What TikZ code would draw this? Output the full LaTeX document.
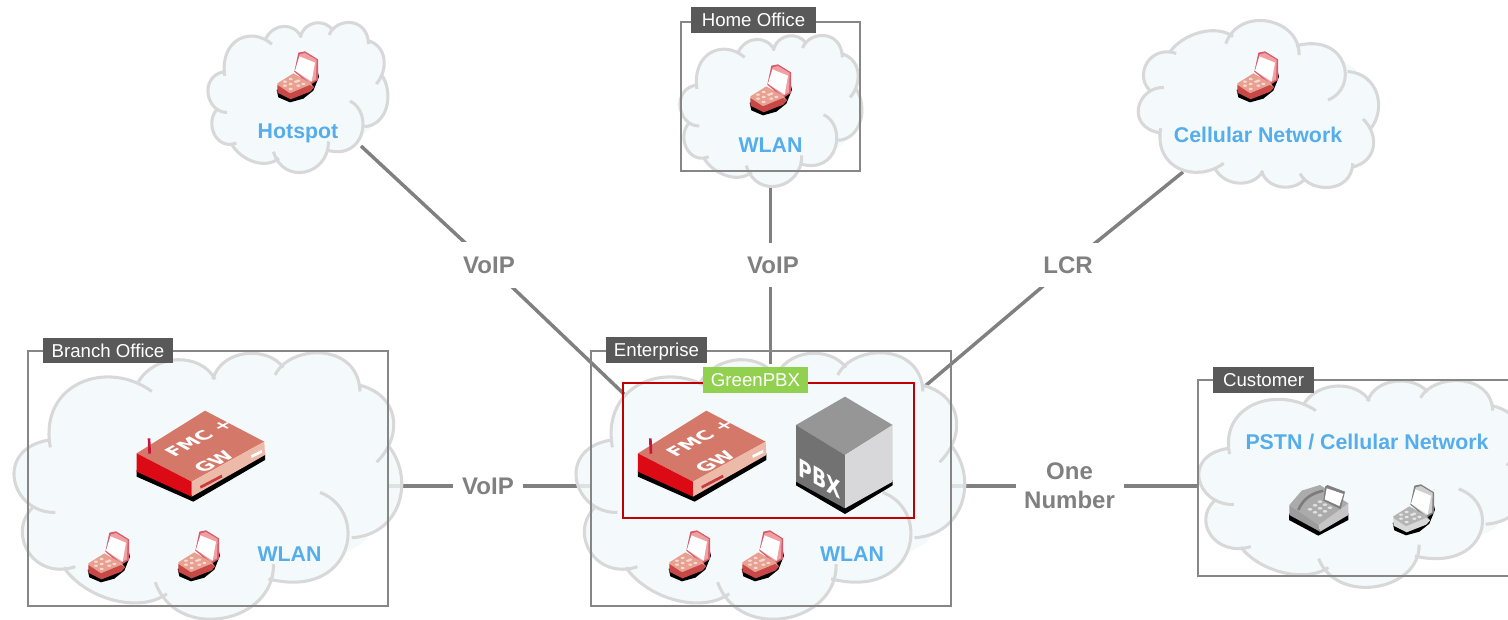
\documentclass[tikz,border=0pt]{standalone}
\usepackage{fontspec}
\setmainfont{Liberation Sans}
\newfontfamily\iconfont{DejaVu Sans}
\pgfdeclarelayer{back}
\pgfsetlayers{back,main}
\definecolor{cloudfill}{HTML}{F1F9FA}
\definecolor{cloudline}{HTML}{D8D8D8}
\definecolor{framegray}{HTML}{868686}
\definecolor{tabgray}{HTML}{595959}
\definecolor{linkgray}{HTML}{808080}
\definecolor{skyblue}{HTML}{55ADEC}
\definecolor{greentab}{HTML}{92D050}
\definecolor{boxred}{HTML}{C00000}
\tikzset{
  HTML/.code={\definecolor{tmpc}{HTML}{#1}\pgfkeysalso{color=tmpc}},
  px/.style={x=0.75pt,y=-0.75pt},
  fine/.style={x=0.25pt,y=-0.25pt},
  framebox/.style={draw=framegray,line width=1.5pt,inner sep=0pt},
  redbox/.style={draw=boxred,line width=1.5pt,inner sep=0pt},
  tabbox/.style={fill=#1,text=white,inner sep=0pt,font=\fontsize{14}{16}\selectfont,text height=11pt,text depth=1.2pt},
  wpx/.style={minimum width=#1*0.75pt},
  hpx/.style={minimum height=#1*0.75pt},
  link/.style={draw=linkgray,line width=2.6pt},
  linklabel/.style={fill=white,text=linkgray,inner sep=0pt,font=\fontsize{18}{21.75}\selectfont\bfseries,align=center},
  netlabel/.style={text=skyblue,inner sep=0pt,anchor=base,font=\fontsize{16}{18}\selectfont\bfseries},
  iconword/.style={text=white,inner sep=0pt,font=\iconfont\fontsize{14}{25.5}\selectfont\bfseries}
}
\newcommand\cloudshape{
 (150,325) .. controls (115,130) and (320,55) .. (455,155) -- cycle
 (415,125) .. controls (465,40) and (600,35) .. (645,118) -- cycle
 (638,118) .. controls (665,25) and (800,15) .. (850,82) -- cycle
 (825,105) .. controls (870,10) and (1075,5) .. (1080,155) -- cycle
 (1075,135) .. controls (1200,165) and (1210,290) .. (1130,370) -- cycle
 (1165,320) .. controls (1245,420) and (1205,590) .. (1055,600) -- cycle
 (960,462) .. controls (1110,520) and (1060,790) .. (805,725) -- cycle
 (820,680) .. controls (825,860) and (530,920) .. (465,735) -- cycle
 (500,770) .. controls (420,830) and (260,790) .. (190,690) -- cycle
 (225,688) .. controls (100,730) and (20,590) .. (95,510) -- cycle
 (165,523) .. controls (30,525) and (-20,330) .. (145,303) -- cycle
}
\newcommand\cloudstroke{
 (150,325) .. controls (115,130) and (320,55) .. (455,155)
 (415,125) .. controls (465,40) and (600,35) .. (645,118)
 (638,118) .. controls (665,25) and (800,15) .. (850,82)
 (825,105) .. controls (870,10) and (1075,5) .. (1080,155)
 (1075,135) .. controls (1200,165) and (1210,290) .. (1130,370)
 (1165,320) .. controls (1245,420) and (1205,590) .. (1055,600)
 (960,462) .. controls (1110,520) and (1060,790) .. (805,725)
 (820,680) .. controls (825,860) and (530,920) .. (465,735)
 (500,770) .. controls (420,830) and (260,790) .. (190,690)
 (225,688) .. controls (100,730) and (20,590) .. (95,510)
 (165,523) .. controls (30,525) and (-20,330) .. (145,303)
}
\newcommand\cloudat[4]{
 \pgfmathsetmacro\cx{#3/1177*0.75}
 \pgfmathsetmacro\cy{-#4/815*0.75}
 \pgfmathsetmacro\ox{#1-35*#3/1177}
 \pgfmathsetmacro\oy{#2-35*#4/815}
 \begin{scope}[shift={(\ox,\oy)},x=\cx pt,y=\cy pt]
  \fill[cloudfill,fill opacity=0.82]
   (148,300) -- (300,150) -- (435,115) -- (530,90) -- (642,108) -- (740,60) -- (836,88) -- (960,70) -- (1078,145) -- (1140,250) -- (1160,320) -- (1180,480) -- (1090,615) -- (960,690) -- (810,730) -- (650,800) -- (490,770) -- (345,750) -- (205,692) -- (100,620) -- (90,515) -- (70,420) -- cycle
   \cloudshape;
  \draw[cloudline,line width=2.3pt] \cloudstroke;
 \end{scope}
}
\newcommand\phoneicon[8]{
 \begin{scope}[shift={(#2,#3)}]
 \begin{scope}[fine]
  \fill[black] (50,150) -- (55,172) -- (90,187) -- (130,176) -- (160,152) -- (177,110) -- (172,90) -- cycle;
  \fill[HTML=#4] (115,38) -- (135,34) -- (174,58) -- (174,120) -- (150,135) -- (103,95) -- cycle;
  \fill[HTML=#5] (119,43) -- (135,39) -- (170,60) -- (168,118) -- (150,128) -- (108,95) -- cycle;
  \fill[white] (118,49) -- (165,68) -- (155,125) -- (105,92) -- cycle;
  \fill[HTML=#6] (52,130) -- (100,100) -- (150,128) -- (162,142) -- (150,155) -- (90,172) -- (55,150) -- cycle;
  \fill[HTML=#7] (52,135) -- (90,160) -- (150,135) -- (162,142) -- (150,155) -- (92,178) -- (52,158) -- cycle;
  \foreach \kx/\ky in {75/125,92/117,108/125,75/137,92/132,115/137,92/147,115/122,130/132}
   \fill[HTML=#8] (\kx,\ky) ellipse (6 and 3.5);
 \end{scope}
 \end{scope}
}
\newcommand\gatewayicon[3]{
 \begin{scope}[shift={(#2,#3)}]
 \begin{scope}[fine]
  \fill[black] (35,210) -- (200,285) -- (420,160) -- (420,180) -- (205,305) -- (35,230) -- cycle;
  \fill[HTML=D4796A] (35,160) -- (240,32) -- (418,125) -- (200,245) -- cycle;
  \fill[HTML=EDB9A8] (200,245) -- (418,125) -- (420,165) -- (200,290) -- cycle;
  \fill[HTML=DC0A14] (35,160) -- (200,245) -- (200,290) -- (35,215) -- cycle;
  \fill[HTML=C8143C] (68,115) -- (76,115) -- (78,160) -- (70,162) -- cycle;
  \fill[white] (378,166) -- (410,150) -- (412,158) -- (380,174) -- cycle;
  \fill[HTML=C83C3C] (225,258) -- (290,224) -- (292,232) -- (227,266) -- cycle;
  \begin{scope}[shift={(265,138)},cm={0.9,0.49,-0.85,0.47,(0,0)},transform shape]
   \node[iconword,align=left] (#1word) {FMC +\\GW};
  \end{scope}
 \end{scope}
 \end{scope}
}
\begin{document}
\begin{tikzpicture}[px]
\useasboundingbox (0,0) rectangle (1508,620);
\begin{scope}
\clip (0,0) rectangle (1508,620);
\coordinate (hotspot) at (361,146);
\coordinate (homeoffice) at (770.5,186);
\coordinate (cellular) at (1183,172);
\coordinate (entA) at (625,395);
\coordinate (entB) at (770.5,364);
\coordinate (entC) at (924,387);
\coordinate (branchE) at (388,486);
\coordinate (entW) at (590,486);
\coordinate (entE) at (951,486);
\coordinate (custW) at (1198,486);
\node[linklabel,wpx=66,hpx=46] (voipA) at (489,265) {VoIP};
\node[linklabel,wpx=66,hpx=44] (voipB) at (773,265) {VoIP};
\node[linklabel,wpx=62,hpx=44] (lcr) at (1068,265) {LCR};
\node[linklabel,wpx=70,hpx=34] (voipC) at (488,486) {VoIP};
\node[linklabel,wpx=108,hpx=60] (onenumber) at (1069.5,486) {One\\Number};
\begin{pgfonlayer}{back}
\draw[link] (hotspot) -- (voipA.center) -- (entA);
\draw[link] (homeoffice) -- (entB);
\draw[link] (cellular) -- (lcr.center) -- (entC);
\draw[link] (branchE) -- (voipC.center) -- (entW);
\draw[link] (entE) -- (onenumber.center) -- (custW);
\end{pgfonlayer}
\cloudat{207}{22}{182}{151}
\cloudat{679}{35}{184}{152}
\cloudat{1137}{188}{243}{-168}
\cloudat{12}{352}{392}{268}
\cloudat{574}{352}{393}{268}
\cloudat{1197}{380}{333}{208}
\node[framebox,wpx=360,hpx=255] (branch) at (208,478.5) {};
\node[framebox,wpx=360,hpx=255] (enterprise) at (771,478.5) {};
\node[framebox,wpx=179,hpx=149] (home) at (770.5,96.5) {};
\node[framebox,wpx=330,hpx=196] (customer) at (1363,478) {};
\node[redbox,wpx=291,hpx=135] (green) at (768,450) {};
\node[tabbox=tabgray,wpx=130,hpx=25] (tabbranch) at (108,350.5) {Branch Office};
\node[tabbox=tabgray,wpx=101,hpx=26] (tabent) at (656.5,350) {Enterprise};
\node[tabbox=tabgray,wpx=125,hpx=26] (tabhome) at (753.5,20) {Home Office};
\node[tabbox=tabgray,wpx=101,hpx=26] (tabcust) at (1263.5,380) {Customer};
\node[tabbox=greentab,wpx=105,hpx=26] (tabgreen) at (755.5,380) {GreenPBX};
\node[netlabel] (lhot) at (298,139) {Hotspot};
\node[netlabel] (lhome) at (770.5,153) {WLAN};
\node[netlabel] (lcell) at (1258,143) {Cellular Network};
\node[netlabel] (lbranch) at (289.5,561) {WLAN};
\node[netlabel] (lent) at (852,561) {WLAN};
\node[netlabel] (lpstn) at (1367,449) {PSTN / Cellular Network};
\phoneicon{p1}{260}{40}{D85A6E}{EFA0A0}{E8A090}{C84848}{F8D8D0}
\phoneicon{p2}{733}{53}{D85A6E}{EFA0A0}{E8A090}{C84848}{F8D8D0}
\phoneicon{p3}{1220}{40}{D85A6E}{EFA0A0}{E8A090}{C84848}{F8D8D0}
\phoneicon{p4}{71}{520}{D85A6E}{EFA0A0}{E8A090}{C84848}{F8D8D0}
\phoneicon{p5}{161}{519}{D85A6E}{EFA0A0}{E8A090}{C84848}{F8D8D0}
\phoneicon{p6}{652}{519}{D85A6E}{EFA0A0}{E8A090}{C84848}{F8D8D0}
\phoneicon{p7}{725}{519}{D85A6E}{EFA0A0}{E8A090}{C84848}{F8D8D0}
\phoneicon{p8}{1376}{473}{808080}{D0D0D0}{B4B4B4}{D8D8D8}{E6E6E6}
\gatewayicon{gwA}{125}{400}
\gatewayicon{gwB}{626.3}{400}
\begin{scope}[shift={(620,370)}]
\begin{scope}[fine]
 \fill[black] (528,330) -- (675,412) -- (818,330) -- (818,346) -- (675,432) -- (528,346) -- cycle;
 \fill[HTML=969696] (528,165) -- (675,80) -- (818,165) -- (675,255) -- cycle;
 \fill[HTML=727272] (528,165) -- (675,255) -- (675,415) -- (528,335) -- cycle;
 \fill[HTML=D8D8DA] (675,255) -- (818,165) -- (818,335) -- (675,415) -- cycle;
 \begin{scope}[shift={(600,325)},cm={1.0,-0.57,0,1.3,(0,0)},transform shape]
  \node[iconword] (pbxword) {PBX};
 \end{scope}
\end{scope}
\end{scope}
\begin{scope}[shift={(1270,470)}]
\begin{scope}[fine]
 \fill[black] (57,130) -- (145,180) -- (235,130) -- (235,150) -- (145,197) -- (57,150) -- cycle;
 \fill[HTML=9C9C9C] (58,105) -- (145,160) -- (150,185) -- (58,135) -- cycle;
 \fill[HTML=C6C6C6] (145,160) -- (235,100) -- (235,135) -- (150,185) -- cycle;
 \fill[HTML=ABABAB] (58,105) -- (95,62) -- (150,45) -- (235,100) -- (145,165) -- cycle;
 \draw[HTML=7C7C7C,line width=2pt] (85,120) .. controls (100,85) and (125,70) .. (160,62);
 \foreach \kx/\ky in {120/118,135/127,150/136,135/106,150/115,165/124,150/95,165/104,180/113}
  \fill[HTML=E0E0E0] (\kx,\ky) ellipse (7 and 4);
 \fill[HTML=808080] (165,50) -- (172,45) -- (225,65) -- (212,118) -- (160,92) -- cycle;
 \fill[white] (170,55) -- (220,72) -- (208,108) -- (164,88) -- cycle;
\end{scope}
\end{scope}
\end{scope}
\end{tikzpicture}
\end{document}
